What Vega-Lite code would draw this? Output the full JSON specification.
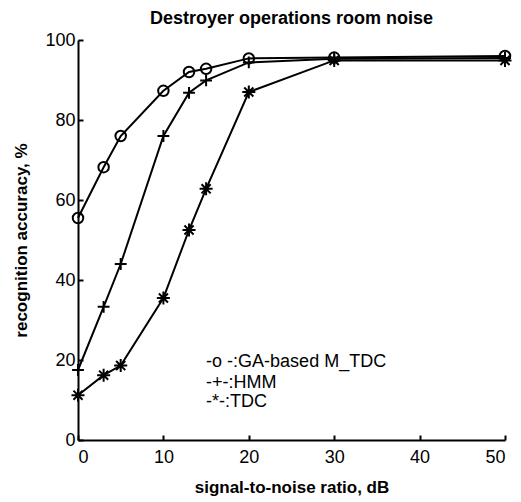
{
  "$schema": "https://vega.github.io/schema/vega-lite/v6.json",
  "autosize": {"type": "none"},
  "width": 427,
  "height": 400,
  "padding": {"left": 78, "top": 40, "right": 16, "bottom": 62},
  "background": "white",
  "title": {"text": "Destroyer operations room noise", "font": "Liberation Sans", "fontSize": 18, "fontWeight": "bold", "color": "black", "frame": "group", "offset": 3},
  "config": {
    "view": {"stroke": null},
    "axis": {"labelFont": "Liberation Sans", "labelFontSize": 18, "labelColor": "black", "titleFont": "Liberation Sans", "titleFontSize": 17, "titleFontWeight": "bold", "titleColor": "black", "domainColor": "black", "domainWidth": 2, "tickColor": "black", "tickWidth": 2, "tickSize": -5, "grid": false}
  },
  "datasets": {
    "curves": [
      {"snr": 0, "acc": 55.5, "series": "GA-based M_TDC"},
      {"snr": 3, "acc": 68.2, "series": "GA-based M_TDC"},
      {"snr": 5, "acc": 76, "series": "GA-based M_TDC"},
      {"snr": 10, "acc": 87.3, "series": "GA-based M_TDC"},
      {"snr": 13, "acc": 92, "series": "GA-based M_TDC"},
      {"snr": 15, "acc": 92.8, "series": "GA-based M_TDC"},
      {"snr": 20, "acc": 95.4, "series": "GA-based M_TDC"},
      {"snr": 30, "acc": 95.6, "series": "GA-based M_TDC"},
      {"snr": 50, "acc": 96, "series": "GA-based M_TDC"},
      {"snr": 0, "acc": 17.5, "series": "HMM"},
      {"snr": 3, "acc": 33.3, "series": "HMM"},
      {"snr": 5, "acc": 44, "series": "HMM"},
      {"snr": 10, "acc": 76, "series": "HMM"},
      {"snr": 13, "acc": 86.8, "series": "HMM"},
      {"snr": 15, "acc": 89.9, "series": "HMM"},
      {"snr": 20, "acc": 94.4, "series": "HMM"},
      {"snr": 30, "acc": 95.3, "series": "HMM"},
      {"snr": 50, "acc": 95.5, "series": "HMM"},
      {"snr": 0, "acc": 11.2, "series": "TDC"},
      {"snr": 3, "acc": 16.2, "series": "TDC"},
      {"snr": 5, "acc": 18.6, "series": "TDC"},
      {"snr": 10, "acc": 35.5, "series": "TDC"},
      {"snr": 13, "acc": 52.5, "series": "TDC"},
      {"snr": 15, "acc": 62.8, "series": "TDC"},
      {"snr": 20, "acc": 87, "series": "TDC"},
      {"snr": 30, "acc": 94.9, "series": "TDC"},
      {"snr": 50, "acc": 94.9, "series": "TDC"}
    ],
    "legend": [
      {"snr": 15, "acc": 19.6, "label": "-o -:GA-based M_TDC"},
      {"snr": 15, "acc": 14.3, "label": "-+-:HMM"},
      {"snr": 15, "acc": 9.6, "label": "-*-:TDC"}
    ]
  },
  "layer": [
    {
      "data": {"name": "curves"},
      "mark": {"type": "line", "color": "black", "strokeWidth": 2},
      "encoding": {
        "x": {"field": "snr", "type": "quantitative", "scale": {"domain": [0, 50], "nice": false}, "axis": {"values": [0, 10, 20, 30, 40, 50], "title": "signal-to-noise ratio, dB", "labelPadding": 13, "titlePadding": 13}},
        "y": {"field": "acc", "type": "quantitative", "scale": {"domain": [0, 100], "nice": false}, "axis": {"values": [0, 20, 40, 60, 80, 100], "title": "recognition accuracy, %", "labelPadding": 8, "titlePadding": 14}},
        "detail": {"field": "series"}
      }
    },
    {
      "data": {"name": "curves"},
      "mark": {"type": "point", "filled": false, "color": "black", "strokeWidth": 2, "opacity": 1},
      "encoding": {
        "x": {"field": "snr", "type": "quantitative"},
        "y": {"field": "acc", "type": "quantitative"},
        "shape": {"field": "series", "type": "nominal", "legend": null, "scale": {"domain": ["GA-based M_TDC", "HMM", "TDC"], "range": ["circle", "M-1,0L1,0M0,-1L0,1", "M-1,0L1,0M0,-1L0,1M-0.7,-0.7L0.7,0.7M-0.7,0.7L0.7,-0.7"]}},
        "size": {"field": "series", "type": "nominal", "legend": null, "scale": {"domain": ["GA-based M_TDC", "HMM", "TDC"], "range": [110, 170, 170]}}
      }
    },
    {
      "data": {"name": "legend"},
      "mark": {"type": "text", "align": "left", "baseline": "middle", "font": "Liberation Sans", "fontSize": 18, "color": "black"},
      "encoding": {
        "x": {"field": "snr", "type": "quantitative"},
        "y": {"field": "acc", "type": "quantitative"},
        "text": {"field": "label"}
      }
    }
  ]
}
